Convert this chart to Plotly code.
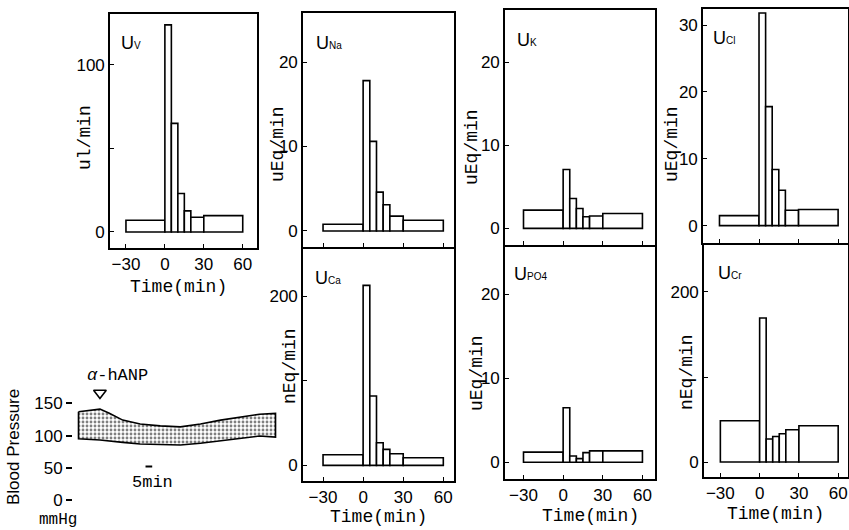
import plotly.graph_objects as go

W, H = 849, 530

# ---------------- data ----------------
bin_edges = [-30, 0, 5, 10, 15, 20, 30, 60]          # collection periods (min)
uv   = [7.0, 124, 65, 23, 12.6, 8.8, 9.8]            # ul/min
una  = [0.8, 17.8, 10.6, 4.6, 3.1, 1.75, 1.27]       # uEq/min
uk   = [2.2, 7.1, 3.6, 2.4, 1.4, 1.5, 1.8]           # uEq/min
ucl  = [1.5, 31.8, 17.8, 8.4, 5.3, 2.3, 2.4]         # uEq/min
uca  = [12.6, 213, 82, 26.8, 18.9, 13.8, 9.1]        # nEq/min
upo4 = [1.2, 6.5, 0.75, 0.43, 1.14, 1.35, 1.35]      # uEq/min
ucr  = [48.6, 169.4, 27, 30.1, 33.3, 38, 42.7]       # nEq/min

time_ticks = [-30, 0, 30, 60]
time_ticktext = ["\u221230", "0", "30", "60"]

bp_time  = [-16, 0, 7, 17, 30, 45, 60, 75, 90, 105, 119, 131]
bp_upper = [137, 141, 134.5, 124, 118, 115, 113.5, 118, 124, 129, 133, 134.5]
bp_lower = [95, 93, 91.5, 89.5, 87, 86, 85.3, 88, 91.5, 95.7, 99.3, 97.5]
bp_ticks = [0, 50, 100, 150]
bp_ticktext = ["0", "50", "100", "150"]
hanp_time, hanp_level = 0, 166
scale_start, scale_len, scale_level = 34, 5, 52

# ---------------- helpers ----------------
def fx(px):
    return px / W

def fy(py):
    return 1 - py / H

centers = [(a + b) / 2 for a, b in zip(bin_edges[:-1], bin_edges[1:])]
widths = [b - a for a, b in zip(bin_edges[:-1], bin_edges[1:])]

SERIF = "Liberation Mono"
SANS = "Liberation Sans"
LW = 1.6

def sub(main, s):
    return f"{main}<span style='font-size:10px'>{s}</span>"

panels = [
    dict(title=sub("U", "V"), ylabel="ul/min", vals=uv, yt=[0, 50, 100], ytt=["0", "", "100"],
         box=(110, 14, 257, 248), xr=(-42.3, 71), yr=(-9.6, 130.5), xlab=True,
         yl=(85, 138), tl=(119, 43), xt=(178, 287)),
    dict(title=sub("U", "Na"), ylabel="uEq/min", vals=una, yt=[0, 10, 20], ytt=["0", "10", "20"],
         box=(303, 13, 454, 247), xr=(-45, 68), yr=(-1.9, 25.8), xlab=False,
         yl=(278, 144), tl=(314, 43), xt=None),
    dict(title=sub("U", "K"), ylabel="uEq/min", vals=uk, yt=[0, 10, 20], ytt=["0", "10", "20"],
         box=(505, 10, 655, 245), xr=(-44, 69.5), yr=(-2.0, 26.3), xlab=False,
         yl=(472, 147), tl=(515, 40), xt=None),
    dict(title=sub("U", "Cl"), ylabel="uEq/min", vals=ucl, yt=[0, 10, 20, 30], ytt=["0", "10", "20", "30"],
         box=(703, 9, 848, 243), xr=(-42.5, 67.5), yr=(-2.6, 32.4), xlab=False,
         yl=(672, 144), tl=(711, 38), xt=None),
    dict(title=sub("U", "Ca"), ylabel="nEq/min", vals=uca, yt=[0, 100, 200], ytt=["0", "", "200"],
         box=(303, 247 + LW, 454, 481), xr=(-45, 68), yr=(-18.5, 256.5), xlab=True,
         yl=(290, 366), tl=(313, 278), xt=(378, 517)),
    dict(title=sub("U", "PO4"), ylabel="uEq/min", vals=upo4, yt=[0, 10, 20], ytt=["0", "10", "20"],
         box=(505, 245 + LW, 655, 479), xr=(-44, 69.5), yr=(-2.0, 25.7), xlab=True,
         yl=(477, 373), tl=(512, 274), xt=(590, 516)),
    dict(title=sub("U", "Cr"), ylabel="nEq/min", vals=ucr, yt=[0, 100, 200], ytt=["0", "", "200"],
         box=(704, 243 + LW, 848, 477), xr=(-42.5, 67.5), yr=(-17.6, 255.7), xlab=True,
         yl=(687, 372), tl=(716, 273), xt=(775, 514)),
]

fig = go.Figure()
layout = dict(width=W, height=H, margin=dict(l=0, r=0, t=0, b=0),
              paper_bgcolor="white", plot_bgcolor="white", showlegend=False,
              annotations=[])
ann = layout["annotations"]

for i, p in enumerate(panels):
    n = i + 1
    xa = "xaxis" if n == 1 else f"xaxis{n}"
    ya = "yaxis" if n == 1 else f"yaxis{n}"
    xr_ = "x" if n == 1 else f"x{n}"
    yr_ = "y" if n == 1 else f"y{n}"
    x0, y0, x1, y1 = p["box"]
    fig.add_trace(go.Bar(x=centers, y=p["vals"], width=widths, base=0,
                         marker=dict(color="white", line=dict(color="black", width=LW)),
                         xaxis=xr_, yaxis=yr_, hoverinfo="skip"))
    layout[xa] = dict(domain=[fx(x0), fx(x1)], range=list(p["xr"]), anchor=yr_,
                      showline=True, mirror=True, linecolor="black", linewidth=LW,
                      showgrid=False, zeroline=False,
                      ticks="inside", ticklen=4, tickwidth=1.3, tickcolor="black",
                      tickvals=time_ticks, ticktext=time_ticktext,
                      showticklabels=p["xlab"],
                      tickfont=dict(family=SANS, size=17, color="black"))
    layout[ya] = dict(domain=[fy(y1), fy(y0)], range=list(p["yr"]), anchor=xr_,
                      showline=True, mirror=True, linecolor="black", linewidth=LW,
                      showgrid=False, zeroline=False,
                      ticks="inside", ticklen=4, tickwidth=1.3, tickcolor="black",
                      tickvals=p["yt"], ticktext=p["ytt"],
                      tickfont=dict(family=SANS, size=17, color="black"))
    ann.append(dict(xref="paper", yref="paper", x=fx(p["tl"][0]), y=fy(p["tl"][1]),
                    text=p["title"], showarrow=False, xanchor="left", yanchor="middle",
                    font=dict(family=SANS, size=18, color="black")))
    ann.append(dict(xref="paper", yref="paper", x=fx(p["yl"][0]), y=fy(p["yl"][1]),
                    text=p["ylabel"], showarrow=False, textangle=-90,
                    xanchor="center", yanchor="middle",
                    font=dict(family=SERIF, size=18, color="black")))
    if p["xt"]:
        ann.append(dict(xref="paper", yref="paper", x=fx(p["xt"][0]), y=fy(p["xt"][1]),
                        text="Time(min)", showarrow=False, xanchor="center", yanchor="middle",
                        font=dict(family=SERIF, size=18, color="black")))

# ---------------- blood pressure trace ----------------
band_x = bp_time + bp_time[::-1] + [bp_time[0]]
band_y = bp_upper + bp_lower[::-1] + [bp_upper[0]]
fig.add_trace(go.Scatter(x=band_x, y=band_y, mode="lines", fill="toself",
                         line=dict(color="black", width=LW),
                         fillcolor="white",
                         fillpattern=dict(shape=".", size=4, solidity=0.4,
                                          fgcolor="black", bgcolor="white"),
                         xaxis="x8", yaxis="y8", hoverinfo="skip"))
fig.add_trace(go.Scatter(x=[hanp_time], y=[hanp_level], mode="markers",
                         marker=dict(symbol="triangle-down-open", size=11,
                                     color="black", line=dict(color="black", width=LW)),
                         xaxis="x8", yaxis="y8", hoverinfo="skip"))
fig.add_trace(go.Scatter(x=[scale_start, scale_start + scale_len], y=[scale_level, scale_level],
                         mode="lines", line=dict(color="black", width=2),
                         xaxis="x8", yaxis="y8", hoverinfo="skip"))

layout["xaxis8"] = dict(domain=[fx(73), fx(290)], range=[-20.1, 141.8], anchor="y8",
                        visible=False, showgrid=False, zeroline=False)
layout["yaxis8"] = dict(domain=[fy(510), fy(388)], range=[-15.5, 173.8], anchor="x8",
                        showline=False, showgrid=False, zeroline=False,
                        ticks="outside", ticklen=6, tickwidth=2, tickcolor="black",
                        tickvals=bp_ticks, ticktext=bp_ticktext,
                        tickfont=dict(family=SANS, size=17, color="black"))

ann.append(dict(xref="paper", yref="paper", x=fx(118), y=fy(375), text="<i>\u03b1</i>-hANP",
                showarrow=False, xanchor="center", yanchor="middle",
                font=dict(family=SERIF, size=17, color="black")))
ann.append(dict(xref="paper", yref="paper", x=fx(152), y=fy(482), text="5min",
                showarrow=False, xanchor="center", yanchor="middle",
                font=dict(family=SERIF, size=17, color="black")))
ann.append(dict(xref="paper", yref="paper", x=fx(13), y=fy(447), text="Blood Pressure",
                showarrow=False, textangle=-90, xanchor="center", yanchor="middle",
                font=dict(family=SANS, size=17, color="black")))
ann.append(dict(xref="paper", yref="paper", x=fx(58), y=fy(520), text="mmHg",
                showarrow=False, xanchor="center", yanchor="middle",
                font=dict(family=SERIF, size=16, color="black")))

fig.update_layout(**layout)
fig.write_html("out.html", config={"displayModeBar": False},
               post_script="document.body.style.margin='0';document.body.style.padding='0';document.body.style.overflow='hidden';")
